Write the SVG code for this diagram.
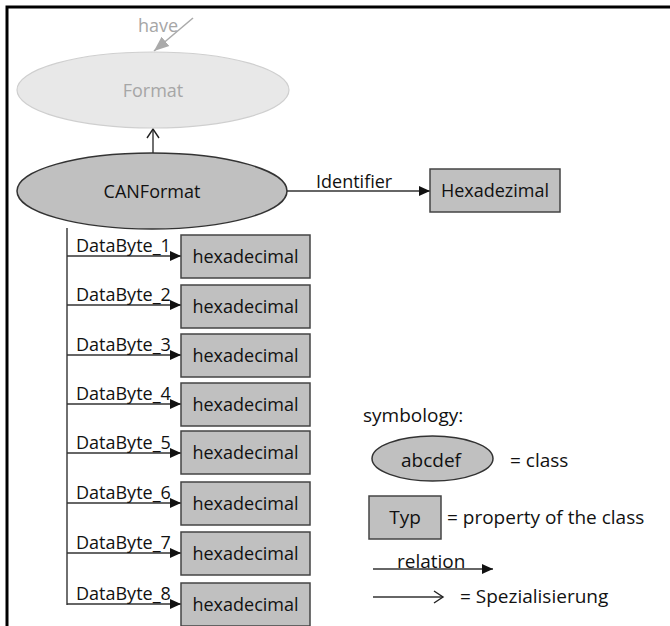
<svg xmlns="http://www.w3.org/2000/svg" width="670" height="626" viewBox="0 0 670 626">
<style>
text{font-family:"Open Sans","Noto Sans",sans-serif;font-size:18px;fill:#111}
.c{text-anchor:middle}
.lg{font-size:19px}
.box{fill:#c0c0c0;stroke:#444;stroke-width:1.5}
.cls{fill:#c0c0c0;stroke:#333;stroke-width:1.5}
.ln{stroke:#333;stroke-width:1.4;fill:none}
.gray{fill:#a6a6a6}
</style>
<defs>
<marker id="fa" markerUnits="userSpaceOnUse" markerWidth="12" markerHeight="12" viewBox="0 0 12 12" refX="11" refY="6" orient="auto">
<path d="M0,1 L11,6 L0,11 Z" fill="#111"/>
</marker>
<marker id="oa" markerUnits="userSpaceOnUse" markerWidth="14" markerHeight="14" viewBox="0 0 14 14" refX="12" refY="7" orient="auto">
<path d="M3,1 L12,7 L3,13" fill="none" stroke="#222" stroke-width="1.4"/>
</marker>
<marker id="ga" markerUnits="userSpaceOnUse" markerWidth="16" markerHeight="16" viewBox="0 0 16 16" refX="15" refY="8" orient="auto">
<path d="M0,2 L15,8 L0,14 Z" fill="#aaa"/>
</marker>
</defs>

<g id="frame">
<path d="M7,626 V7 H670" fill="none" stroke="#000" stroke-width="3"/>
</g>

<g id="connectors">
<line x1="193" y1="18" x2="154" y2="51" stroke="#aaa" stroke-width="1.5" marker-end="url(#ga)"/>
<text class="gray" x="138" y="32">have</text>
<line class="ln" x1="153" y1="153" x2="153" y2="129" marker-end="url(#oa)"/>
<line class="ln" x1="287" y1="191" x2="430" y2="191" marker-end="url(#fa)"/>
<text x="316" y="188">Identifier</text>
<line class="ln" x1="67" y1="228" x2="67" y2="605"/>
<line class="ln" x1="67" y1="256" x2="181" y2="256" marker-end="url(#fa)"/>
<line class="ln" x1="67" y1="305" x2="181" y2="305" marker-end="url(#fa)"/>
<line class="ln" x1="67" y1="355" x2="181" y2="355" marker-end="url(#fa)"/>
<line class="ln" x1="67" y1="404" x2="181" y2="404" marker-end="url(#fa)"/>
<line class="ln" x1="67" y1="453" x2="181" y2="453" marker-end="url(#fa)"/>
<line class="ln" x1="67" y1="503" x2="181" y2="503" marker-end="url(#fa)"/>
<line class="ln" x1="67" y1="553" x2="181" y2="553" marker-end="url(#fa)"/>
<line class="ln" x1="67" y1="604" x2="181" y2="604" marker-end="url(#fa)"/>
<text x="76" y="252">DataByte_1</text>
<text x="76" y="301">DataByte_2</text>
<text x="76" y="351">DataByte_3</text>
<text x="76" y="400">DataByte_4</text>
<text x="76" y="449">DataByte_5</text>
<text x="76" y="499">DataByte_6</text>
<text x="76" y="549">DataByte_7</text>
<text x="76" y="600">DataByte_8</text>
</g>

<g id="format">
<ellipse cx="153" cy="90" rx="136" ry="38" fill="#e8e8e8" stroke="#cfcfcf" stroke-width="1.2"/>
<text class="c gray" x="153" y="97">Format</text>
</g>

<g id="canformat">
<ellipse class="cls" cx="152" cy="191" rx="135" ry="38"/>
<text class="c" x="152" y="198">CANFormat</text>
</g>

<g id="hexadezimal">
<rect class="box" x="430" y="169" width="130" height="43"/>
<text class="c" x="495" y="197">Hexadezimal</text>
</g>

<g id="byte1"><rect class="box" x="181" y="235" width="129" height="43"/><text class="c" x="245.5" y="263">hexadecimal</text></g>
<g id="byte2"><rect class="box" x="181" y="285" width="129" height="43"/><text class="c" x="245.5" y="313">hexadecimal</text></g>
<g id="byte3"><rect class="box" x="181" y="334" width="129" height="43"/><text class="c" x="245.5" y="362">hexadecimal</text></g>
<g id="byte4"><rect class="box" x="181" y="383" width="129" height="43"/><text class="c" x="245.5" y="411">hexadecimal</text></g>
<g id="byte5"><rect class="box" x="181" y="431" width="129" height="43"/><text class="c" x="245.5" y="459">hexadecimal</text></g>
<g id="byte6"><rect class="box" x="181" y="482" width="129" height="43"/><text class="c" x="245.5" y="510">hexadecimal</text></g>
<g id="byte7"><rect class="box" x="181" y="532" width="129" height="43"/><text class="c" x="245.5" y="560">hexadecimal</text></g>
<g id="byte8"><rect class="box" x="181" y="583" width="129" height="43"/><text class="c" x="245.5" y="611">hexadecimal</text></g>

<g id="legend">
<text class="lg" x="363" y="422">symbology:</text>
<ellipse class="cls" cx="432.5" cy="458.5" rx="60.5" ry="22.5"/>
<text class="c lg" x="431" y="467">abcdef</text>
<text class="lg" x="510" y="467">= class</text>
<rect class="box" x="369" y="496" width="72" height="43"/>
<text class="c lg" x="405" y="524">Typ</text>
<text class="lg" x="447" y="524">= property of the class</text>
<line class="ln" x1="373" y1="569" x2="493" y2="569" marker-end="url(#fa)"/>
<text class="lg" x="397" y="568">relation</text>
<line class="ln" x1="373" y1="597" x2="443" y2="597" marker-end="url(#oa)"/>
<text class="lg" x="460" y="603">= Spezialisierung</text>
</g>
</svg>
